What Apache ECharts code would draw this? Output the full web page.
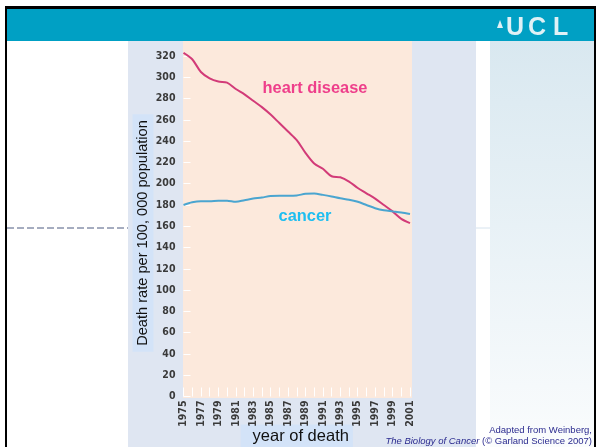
<!DOCTYPE html>
<html>
<head>
<meta charset="utf-8">
<script src="https://cdn.jsdelivr.net/npm/echarts@6/dist/echarts.min.js"></script>
<style>
	html, body { margin: 0; padding: 0; background: #fff; }
	#chart { width: 596px; height: 447px; }
</style>
</head>
<body>
<div id="chart"></div>
<script>
// years on the x axis
var years = ["1975", "1976", "1977", "1978", "1979", "1980", "1981", "1982", "1983", "1984",
	"1985", "1986", "1987", "1988", "1989", "1990", "1991", "1992", "1993", "1994",
	"1995", "1996", "1997", "1998", "1999", "2000", "2001"];
// death rate per 100,000
var heartDisease = [323, 317, 305, 299, 296, 295, 289, 284, 278, 272,
	265, 257, 249, 241, 229, 219, 214, 207, 206, 202,
	196, 191, 186, 180, 174, 167, 163];
var cancer = [180, 182.5, 183.5, 183.5, 184, 184, 183, 184.5, 186, 187,
	188.5, 188.7, 188.7, 189, 190.5, 190.8, 189.5, 188, 186.3, 185,
	183, 180, 177, 175, 174, 173, 171.5];
var yTicks = [0, 20, 40, 60, 80, 100, 120, 140, 160, 180, 200, 220, 240, 260, 280, 300, 320];

var tickFont = "'Liberation Sans Narrow', 'DejaVu Sans Condensed', sans-serif";
var textFont = "'Liberation Sans', Arial, sans-serif";

var chart = echarts.init(document.getElementById("chart"));
chart.setOption({
	animation: false,
	backgroundColor: "#fff",
	graphic: [
		// slide panels
		{ type: "rect", z: -10, shape: { x: 128, y: 41, width: 348, height: 406 }, style: { fill: "#dfe6f2" } },
		{ type: "rect", z: -9, shape: { x: 183, y: 41, width: 229, height: 357 }, style: { fill: "#fce9dc" } },
		{
			type: "rect", z: -10, shape: { x: 490, y: 41, width: 104, height: 406 },
			style: { fill: new echarts.graphic.LinearGradient(0, 0, 0, 1, [
				{ offset: 0, color: "#d9e8f0" }, { offset: 1, color: "#fafcfd" }]) }
		},
		{ type: "line", z: -8, shape: { x1: 7, y1: 228, x2: 128, y2: 228 }, style: { stroke: "#4d5a80", lineWidth: 1, lineDash: [7, 3] } },
		{ type: "line", z: -8, shape: { x1: 476, y1: 228, x2: 490, y2: 228 }, style: { stroke: "#d6e3ee", lineWidth: 1 } },
		// header bar + frame
		{ type: "rect", z: 50, shape: { x: 5, y: 9, width: 591, height: 32 }, style: { fill: "#00a0c4" } },
		{ type: "rect", z: 51, shape: { x: 5, y: 6, width: 591, height: 3 }, style: { fill: "#000" } },
		{ type: "rect", z: 51, shape: { x: 5, y: 6, width: 2, height: 441 }, style: { fill: "#000" } },
		{ type: "rect", z: 51, shape: { x: 594, y: 6, width: 2, height: 441 }, style: { fill: "#000" } },
		{ type: "polygon", z: 52, shape: { points: [[497, 28], [500, 20], [503, 28]] }, style: { fill: "#dff1f6" } },
		{ type: "text", z: 52, x: 506, y: 41, style: { text: "U", fill: "#dff1f6", font: "bold 25px " + textFont, textVerticalAlign: "bottom" } },
		{ type: "text", z: 52, x: 528, y: 41, style: { text: "C", fill: "#dff1f6", font: "bold 25px " + textFont, textVerticalAlign: "bottom" } },
		{ type: "text", z: 52, x: 553, y: 41, style: { text: "L", fill: "#dff1f6", font: "bold 25px " + textFont, textVerticalAlign: "bottom" } },
		// y axis title (sits a bit below the axis middle in the original)
		{
			type: "text", z: 5, x: 143, y: 233, rotation: Math.PI / 2,
			style: {
				text: "Death rate per 100, 000 population", fill: "#111", font: "14.6px " + textFont,
				textAlign: "center", textVerticalAlign: "middle",
				backgroundColor: "#d3e3f8", padding: [3, 6, 3, 6]
			}
		},
		// series labels
		{
			type: "text", z: 10, x: 315, y: 88,
			style: { text: "heart disease", fill: "#ee3f8b", font: "bold 16.4px " + textFont, textAlign: "center", textVerticalAlign: "middle" }
		},
		{
			type: "text", z: 10, x: 305, y: 216,
			style: { text: "cancer", fill: "#1fbef0", font: "bold 16.4px " + textFont, textAlign: "center", textVerticalAlign: "middle" }
		},
		// source note
		{
			type: "text", z: 10, x: 592, y: 430,
			style: { text: "Adapted from Weinberg,", fill: "#2b2b8f", font: "9.5px " + textFont, textAlign: "right", textVerticalAlign: "middle" }
		},
		{
			type: "text", z: 10, x: 592, y: 441,
			style: {
				text: "{i|The Biology of Cancer} (© Garland Science 2007)",
				fill: "#2b2b8f", font: "9.5px " + textFont, textAlign: "right", textVerticalAlign: "middle",
				rich: { i: { fontStyle: "italic", fontSize: 9.5, fontFamily: textFont, fill: "#2b2b8f" } }
			}
		}
	],
	grid: {
		left: 183.5,
		right: 186,
		top: 45.4,
		bottom: 50.5,
		outerBoundsMode: "none"
	},
	xAxis: {
		type: "category",
		data: years,
		boundaryGap: false,
		axisLine: { show: false },
		axisTick: { show: true, inside: true, length: 9, interval: 0, lineStyle: { color: "#fff", width: 1 } },
		axisLabel: { interval: 1, rotate: 90, margin: 4, fontSize: 10.5, fontWeight: "bold", color: "#3a3a3a", fontFamily: tickFont },
		splitLine: { show: false },
		name: "year of death",
		nameLocation: "middle",
		nameGap: 28,
		nameMoveOverlap: false,
		nameTextStyle: { fontSize: 16.5, color: "#111", fontFamily: textFont, backgroundColor: "#d3e3f8", padding: [3, 4, 4, 12] }
	},
	yAxis: {
		type: "value",
		min: 0,
		max: 330,
		interval: 20,
		axisLine: { show: false },
		axisTick: { show: true, inside: true, length: 7, lineStyle: { color: "#fff", width: 1 } },
		axisLabel: {
			margin: 8, fontSize: 10.5, fontWeight: "bold", color: "#3a3a3a", fontFamily: tickFont, showMaxLabel: false,
			formatter: function (v) { return yTicks.indexOf(v) >= 0 ? String(v) : ""; }
		},
		splitLine: { show: false }
	},
	series: [
		{
			name: "heart disease",
			type: "line",
			data: heartDisease,
			smooth: 0.3,
			showSymbol: false,
			lineStyle: { color: "#d23b78", width: 2 }
		},
		{
			name: "cancer",
			type: "line",
			data: cancer,
			smooth: 0.3,
			showSymbol: false,
			lineStyle: { color: "#4aa5d0", width: 2 }
		}
	]
});
</script>
</body>
</html>
